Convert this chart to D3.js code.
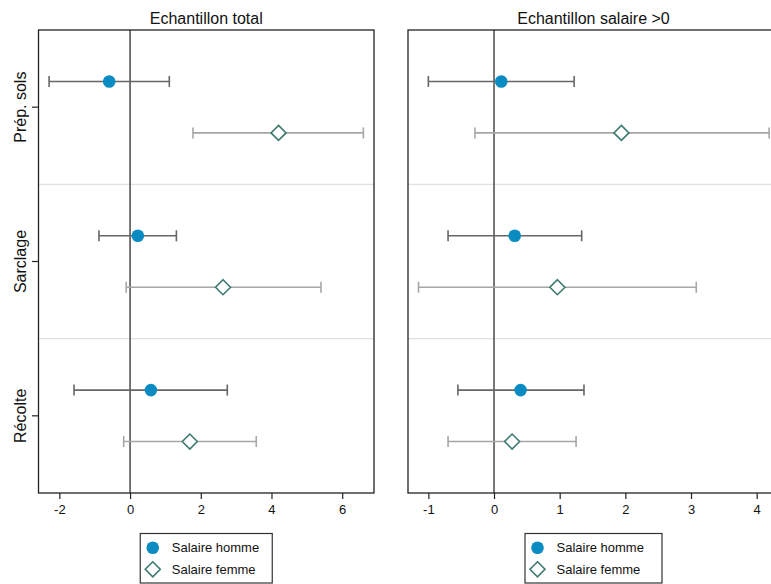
<!DOCTYPE html>
<html>
<head>
<meta charset="utf-8">
<script src="https://cdn.jsdelivr.net/npm/d3@7"></script>
<style>
  body { margin: 0; background: #fff; }
  svg { font-family: "Liberation Sans", Arial, sans-serif; }
</style>
</head>
<body>
<svg id="chart"></svg>
<script>
// categories and series
const categories = ["Prép. sols", "Sarclage", "Récolte"];
const seriesNames = ["Salaire homme", "Salaire femme"];
const panelTitles = ["Echantillon total", "Echantillon salaire >0"];

// [estimate, ci low, ci high] per category
const totalHomme = [[-0.59, -2.29, 1.11], [0.22, -0.88, 1.31], [0.59, -1.585, 2.75]];
const totalFemme = [[4.20, 1.78, 6.60], [2.63, -0.11, 5.40], [1.69, -0.18, 3.57]];
const posHomme = [[0.11, -1.00, 1.22], [0.315, -0.70, 1.335], [0.405, -0.55, 1.37]];
const posFemme = [[1.94, -0.29, 4.19], [0.965, -1.15, 3.08], [0.275, -0.70, 1.25]];

// x axis ticks
const totalTicks = [-2, 0, 2, 4, 6];
const posTicks = [-1, 0, 1, 2, 3, 4];

const width = 771, height = 584;
const svg = d3.select('#chart').attr('width', width).attr('height', height);

const plotTop = 30, plotBottom = 493;
const panels = [
  { title: panelTitles[0], left: 38.5, right: 374, domain: [-2.59, 6.9], ticks: totalTicks, data: [totalHomme, totalFemme], yaxis: true },
  { title: panelTitles[1], left: 408, right: 779, domain: [-1.31, 4.34], ticks: posTicks, data: [posHomme, posFemme], yaxis: false }
];

const blue = '#0a8bc2';
const teal = '#3d7a6f';
const ciColors = ['#666666', '#a6a6a6'];

const yband = d3.scaleBand().domain(categories).range([plotTop, plotBottom]);
const ypoint = d3.scalePoint().domain(seriesNames).range([0, yband.bandwidth()]).padding(1);

panels.forEach((p) => {
  const x = d3.scaleLinear().domain(p.domain).range([p.left, p.right]);
  const g = svg.append('g');

  // band separators
  g.selectAll('line.sep').data(categories.slice(1)).join('line')
    .attr('class', 'sep')
    .attr('x1', p.left).attr('x2', p.right)
    .attr('y1', (d) => yband(d)).attr('y2', (d) => yband(d))
    .attr('stroke', '#e0e0e0').attr('stroke-width', 1.2);

  // zero line
  g.append('line')
    .attr('x1', x(0)).attr('x2', x(0))
    .attr('y1', plotTop).attr('y2', plotBottom)
    .attr('stroke', '#555').attr('stroke-width', 1.6);

  // error bars + markers
  p.data.forEach((arr, si) => {
    const s = seriesNames[si];
    const rows = arr.map((v, ci) => ({ cat: categories[ci], est: v[0], lo: v[1], hi: v[2] }));
    const yy = (d) => yband(d.cat) + ypoint(s);
    const eg = g.append('g').attr('stroke', ciColors[si]).attr('stroke-width', 1.6).attr('fill', 'none');
    eg.selectAll('line.ci').data(rows).join('line').attr('class', 'ci')
      .attr('x1', (d) => x(d.lo)).attr('x2', (d) => x(d.hi))
      .attr('y1', yy).attr('y2', yy);
    eg.selectAll('line.caplo').data(rows).join('line').attr('class', 'caplo')
      .attr('x1', (d) => x(d.lo)).attr('x2', (d) => x(d.lo))
      .attr('y1', (d) => yy(d) - 5.5).attr('y2', (d) => yy(d) + 5.5);
    eg.selectAll('line.caphi').data(rows).join('line').attr('class', 'caphi')
      .attr('x1', (d) => x(d.hi)).attr('x2', (d) => x(d.hi))
      .attr('y1', (d) => yy(d) - 5.5).attr('y2', (d) => yy(d) + 5.5);

    if (si === 0) {
      g.selectAll('circle.m').data(rows).join('circle').attr('class', 'm')
        .attr('cx', (d) => x(d.est)).attr('cy', yy).attr('r', 6.3)
        .attr('fill', blue);
    } else {
      g.selectAll('path.m').data(rows).join('path').attr('class', 'm')
        .attr('d', (d) => `M${x(d.est)},${yy(d) - 7.5}l7.5,7.5l-7.5,7.5l-7.5,-7.5z`)
        .attr('fill', '#fff').attr('stroke', teal).attr('stroke-width', 1.6);
    }
  });

  // frame
  g.append('rect')
    .attr('x', p.left).attr('y', plotTop)
    .attr('width', p.right - p.left).attr('height', plotBottom - plotTop)
    .attr('fill', 'none').attr('stroke', '#222').attr('stroke-width', 1.3);

  // x axis (plain hyphen minus, integer labels)
  const xaxis = d3.axisBottom(x).tickValues(p.ticks).tickSize(6).tickPadding(6)
    .tickFormat((d) => String(d));
  const gx = svg.append('g').attr('transform', `translate(0,${plotBottom})`).call(xaxis);
  gx.select('.domain').remove();
  gx.selectAll('.tick line').attr('stroke', '#222').attr('stroke-width', 1.2);
  gx.selectAll('.tick text').attr('font-size', 13).attr('fill', '#111')
    .style('font-family', '"Liberation Sans", Arial, sans-serif');

  // title
  svg.append('text')
    .attr('x', (p.left + p.right) / 2).attr('y', 24)
    .attr('text-anchor', 'middle').attr('font-size', 16).attr('fill', '#111')
    .text(p.title);

  // y axis
  if (p.yaxis) {
    const gy = svg.append('g');
    gy.selectAll('line').data(categories).join('line')
      .attr('x1', p.left - 6.5).attr('x2', p.left)
      .attr('y1', (d) => yband(d) + yband.bandwidth() / 2)
      .attr('y2', (d) => yband(d) + yband.bandwidth() / 2)
      .attr('stroke', '#222').attr('stroke-width', 1.2);
    gy.selectAll('text').data(categories).join('text')
      .attr('transform', (d) => `translate(26,${yband(d) + yband.bandwidth() / 2}) rotate(-90)`)
      .attr('text-anchor', 'middle').attr('font-size', 16).attr('fill', '#111')
      .text((d) => d);
  }

  // legend
  const cx = (p.left + p.right) / 2;
  const lw = p.yaxis ? 132 : 137;
  const lg = svg.append('g').attr('transform', `translate(${cx - lw / 2},533.5)`);
  lg.append('rect').attr('width', lw).attr('height', 49.5)
    .attr('fill', '#fff').attr('stroke', '#333').attr('stroke-width', 1.2);
  lg.append('circle').attr('cx', 12.5).attr('cy', 14.2).attr('r', 6.3).attr('fill', blue);
  lg.append('path').attr('d', 'M12.5,28.3l7.5,7.5l-7.5,7.5l-7.5,-7.5z')
    .attr('fill', '#fff').attr('stroke', teal).attr('stroke-width', 1.6);
  lg.selectAll('text').data(seriesNames).join('text')
    .attr('x', 31.5).attr('y', (d, i) => 14.2 + i * 21.6)
    .attr('dy', '0.35em').attr('font-size', 13).attr('fill', '#111')
    .text((d) => d);
});
</script>
</body>
</html>
